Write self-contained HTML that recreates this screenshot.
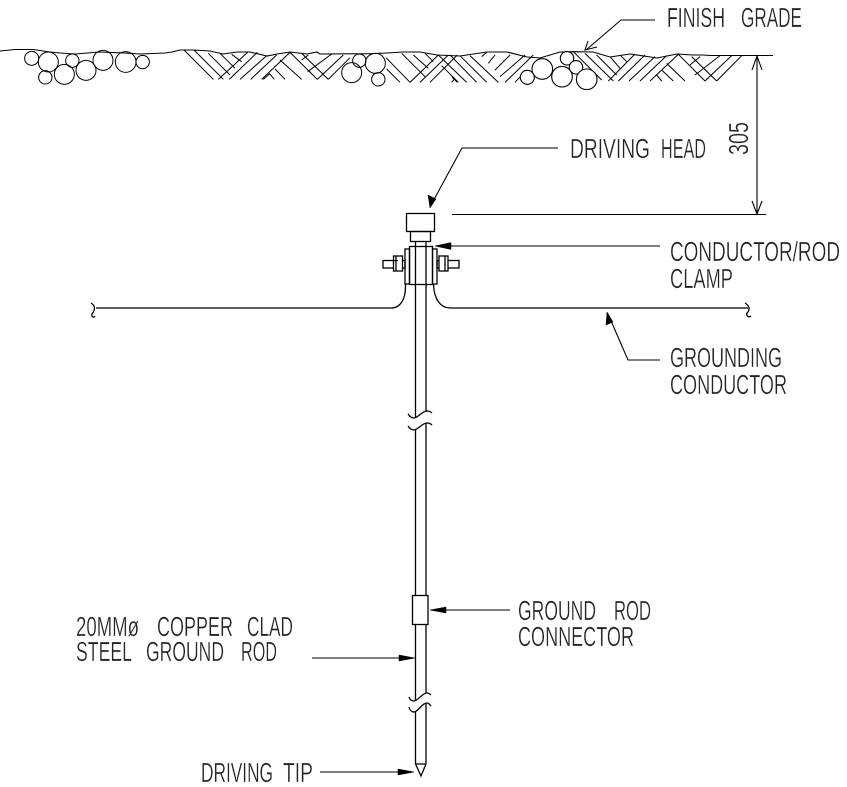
<!DOCTYPE html>
<html><head><meta charset="utf-8"><style>
html,body{margin:0;padding:0;background:#fff;width:847px;height:787px;overflow:hidden}
svg{display:block}
text{font-family:"Liberation Sans",sans-serif;font-size:25.500px;fill:#222;stroke:#fff;stroke-width:.3px;paint-order:fill stroke}
</style></head><body>
<svg width="847" height="787" viewBox="0 0 847 787" xmlns="http://www.w3.org/2000/svg">
<rect width="847" height="787" fill="#fff"/>
<g fill="none" stroke="#000" stroke-width="1.1">
<polyline points="0,51 15,49.500 33,49.500 50,52 60,53 75,54 100,52 125,53 140,54 165,53 172,52 180,50 193,50 210,51 223,54 237,52 250,52 267,56 277,54 290,52 307,54 317,52 320,54 370,53.700 387,53 403,52 420,52 437,55 460,56 487,52 507,52 527,57 540,58 560,52 573,51.700 593,52 610,57 630,54 657,58 677,54 693,55 703,55 710,55.500 773,55.500"/>
</g>
<g transform="translate(0,30) scale(.33333)" fill="none" stroke="#000" stroke-width="3">
<circle cx="95" cy="85" r="21"/><circle cx="145" cy="96" r="30"/><circle cx="217" cy="92" r="20"/><circle cx="309" cy="91" r="30"/><circle cx="377" cy="96" r="31"/><circle cx="428" cy="96" r="20"/><circle cx="136" cy="142" r="20"/><circle cx="193" cy="133" r="30"/><circle cx="258" cy="121" r="30"/>
<circle cx="1055" cy="128" r="30"/><circle cx="1078" cy="92" r="20"/><circle cx="1126" cy="100" r="30"/><circle cx="1135" cy="148" r="20"/>
</g>
<g transform="translate(180,45) scale(.33333)" fill="none" stroke="#000" stroke-width="3">
<path d="M12 15L100 103M42 15L130 103M85 25L150 90M120 25L165 70M155 28L185 50M115 103L205 20M148 103L232 22M180 103L260 32M212 103L290 30M245 103L330 22M330 22L412 103M300 45L365 103M285 72L315 103M268 85L283 103M250 103L270 85M365 25L445 103M412 103L490 30M383 80L455 27M445 103L510 38M365 45L385 30"/>
</g>
<g transform="translate(370,45) scale(.33333)" fill="none" stroke="#000" stroke-width="3">
<path d="M48 38L120 112M50 72L90 112M95 25L165 95M130 30L175 70M165 25L190 50M120 112L205 30M150 112L235 30M180 112L262 30M245 112L255 100M205 30L290 112M240 30L320 112M270 32L350 112M300 32L385 112M215 62L265 112M245 95L262 112M335 35L350 22M355 55L375 30M375 75L420 30M390 95L465 30M405 112L490 30M435 112L470 75"/>
</g>
<g transform="translate(560,45) scale(.33333)" fill="none" stroke="#000" stroke-width="3">
<path d="M40 20L125 105M75 25L160 108M110 30L170 90M150 35L180 70M180 30L200 50M145 108L225 27M175 108L255 30M207 108L285 35M240 108L320 32M270 108L355 28M355 28L435 108M320 55L375 108M305 75L340 108M290 90L305 108M395 35L470 108M435 108L515 32M390 60L420 35M405 90L480 32M470 108L545 32"/>
</g>
<g fill="#fff" stroke="#000" stroke-width="1.100">
<circle cx="527.300" cy="77.300" r="7"/><circle cx="542.300" cy="69" r="10.300"/><circle cx="562" cy="76.700" r="10.300"/><circle cx="567" cy="58.300" r="6.700"/><circle cx="576" cy="67.300" r="6.700"/><circle cx="586.700" cy="79.300" r="10.300"/>
</g>

<!-- rod -->
<g fill="none" stroke="#000" stroke-width="1.3">
<path d="M415.500 241.500V418M426 241.500V411"/>
<path d="M415.500 430V595M426 423V595"/>
<path d="M415.500 624V701M426 624V693"/>
<path d="M415.500 712V764M426 703V764M415.500 764H426M415.500 764L421 776L426 764"/>
<path d="M408 414C410 417 412 418 414 418C418 418 422 411 427 411C429 411 431 412 432 413"/>
<path d="M408 426C410 429 412 430 414 430C418 430 422 423 427 423C429 423 431 424 432 425"/>
<path d="M409 697C410 700 412 701 414 701C418 701 422 693 427 693C429 693 430 694 431 695"/>
<path d="M409 707C410 711 412 712 414 712C418 712 422 703 427 703C429 703 430 705 431 706"/>
<rect x="412.500" y="595.500" width="15.500" height="29" fill="#fff"/>
<!-- head -->
<rect x="406.500" y="213.500" width="28" height="18"/>
<rect x="410.500" y="231.500" width="20" height="10"/>
<!-- clamp -->
<rect x="409.500" y="246.500" width="23" height="38"/>
<rect x="405" y="249" width="4.500" height="35"/>
<rect x="432.500" y="249" width="4.500" height="35"/>
<rect x="383" y="260.500" width="22" height="7.500"/>
<rect x="437" y="260.500" width="22" height="7.500"/>
<rect x="393.500" y="256" width="9" height="15" fill="#fff"/><path d="M396 256V271M398 260.500H393"/>
<rect x="439" y="256" width="9" height="15" fill="#fff"/><path d="M445 256V271"/>
<!-- conductor -->
<path d="M405.500 284C406 300 400 308 391 308H96M91 303C96 306 95 310 92 314C91 317 94 318 95 316"/>
<path d="M433.500 284C434 300 441 308 450 308H748M745 303C750 306 750 310 747 313C746 316 749 318 751 316"/>
</g>

<!-- leaders -->
<g fill="none" stroke="#000" stroke-width="1.1">
<path d="M655 20H621L586 50"/>
<path d="M588 41L585 50L597 47"/>
<path d="M558 148H462L431 205"/>
<path d="M660 246H441"/>
<path d="M660 360H628L608 314"/>
<path d="M510 610H430"/>
<path d="M312 658H414"/>
<path d="M320 772H413"/>
<path d="M757 56V214"/>
<path d="M452 214.500H766"/>
<path d="M752 70L757 56L762 70M752 201L757 214L762 201"/>
</g>
<g fill="#000" stroke="#000" stroke-width=".5">
<polygon points="430,208 428,195 436,199"/>
<polygon points="435,246 451,242.500 451,249.500"/>
<polygon points="607,312 606,325 613,322"/>
<polygon points="430,610 446,607 446,613"/>
<polygon points="415,658 399,655 399,661"/>
<polygon points="414,772 398,769 398,775"/>
</g>

<!-- text -->
<text transform="translate(667,27) scale(1,1.1)" textLength="58" lengthAdjust="spacingAndGlyphs">FINISH</text>
<text transform="translate(741,27) scale(1,1.1)" textLength="61" lengthAdjust="spacingAndGlyphs">GRADE</text>
<text transform="translate(570,158) scale(1,1.1)" textLength="80" lengthAdjust="spacingAndGlyphs">DRIVING</text>
<text transform="translate(661,158) scale(1,1.1)" textLength="45" lengthAdjust="spacingAndGlyphs">HEAD</text>
<text transform="translate(670,261) scale(1,1.1)" textLength="170" lengthAdjust="spacingAndGlyphs">CONDUCTOR/ROD</text>
<text transform="translate(670,288) scale(1,1.1)" textLength="63" lengthAdjust="spacingAndGlyphs">CLAMP</text>
<text transform="translate(670,367) scale(1,1.1)" textLength="112" lengthAdjust="spacingAndGlyphs">GROUNDING</text>
<text transform="translate(670,394) scale(1,1.1)" textLength="117" lengthAdjust="spacingAndGlyphs">CONDUCTOR</text>
<text transform="translate(518,620) scale(1,1.1)" textLength="78" lengthAdjust="spacingAndGlyphs">GROUND</text>
<text transform="translate(614,620) scale(1,1.1)" textLength="37" lengthAdjust="spacingAndGlyphs">ROD</text>
<text transform="translate(518,646) scale(1,1.1)" textLength="116" lengthAdjust="spacingAndGlyphs">CONNECTOR</text>
<text transform="translate(76,636) scale(1,1.1)" textLength="63" lengthAdjust="spacingAndGlyphs">20MMø</text>
<text transform="translate(157,636) scale(1,1.1)" textLength="76" lengthAdjust="spacingAndGlyphs">COPPER</text>
<text transform="translate(247,636) scale(1,1.1)" textLength="46" lengthAdjust="spacingAndGlyphs">CLAD</text>
<text transform="translate(76,661) scale(1,1.1)" textLength="56" lengthAdjust="spacingAndGlyphs">STEEL</text>
<text transform="translate(146,661) scale(1,1.1)" textLength="78" lengthAdjust="spacingAndGlyphs">GROUND</text>
<text transform="translate(241,661) scale(1,1.1)" textLength="36" lengthAdjust="spacingAndGlyphs">ROD</text>
<text transform="translate(201,782) scale(1,1.1)" textLength="72" lengthAdjust="spacingAndGlyphs">DRIVING</text>
<text transform="translate(283,782) scale(1,1.1)" textLength="30" lengthAdjust="spacingAndGlyphs">TIP</text>
<text transform="translate(748,155) rotate(-90) scale(1,1.1)" textLength="33" lengthAdjust="spacingAndGlyphs">305</text>
</svg>
</body></html>
